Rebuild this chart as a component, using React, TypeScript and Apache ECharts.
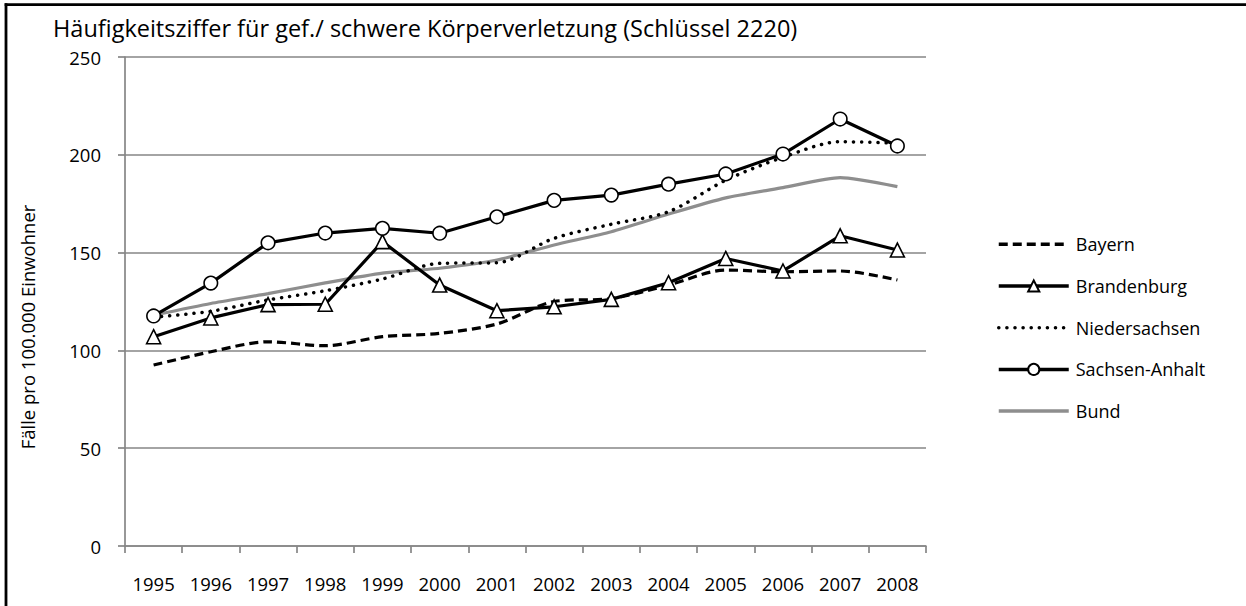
import React, { useEffect, useRef } from "react";
import * as echarts from "echarts";

const years = ["1995","1996","1997","1998","1999","2000","2001","2002","2003","2004","2005","2006","2007","2008"];
const bayern = [92.5, 99.3, 104.4, 102.4, 107, 108.7, 113.5, 125, 126.5, 133.4, 141.1, 140.2, 140.6, 136];
const brandenburg = [107, 116.6, 123.4, 123.6, 155.6, 133.4, 120.3, 122.3, 126.1, 134.6, 147, 140.6, 158.6, 151.3];
const niedersachsen = [117, 120, 125.8, 130.5, 136.5, 144.5, 144.8, 157.3, 164.5, 170.9, 187, 198.7, 206.7, 205.9];
const sachsenAnhalt = [117.6, 134.4, 155, 160, 162.4, 159.9, 168.3, 176.7, 179.4, 185, 190.2, 200.4, 218.3, 204.5];
const bund = [118, 124, 129, 134.5, 139.5, 142, 146.2, 153.9, 160.7, 169.7, 178, 183.2, 188.3, 183.7];
const yTicks = [0, 50, 100, 150, 200, 250];

const FONT = "'Open Sans', 'Noto Sans', sans-serif";

export default function App() {
  const ref = useRef<HTMLDivElement>(null);
  useEffect(() => {
    const chart = echarts.init(ref.current!, null, { renderer: "svg" });
    const hidden = { opacity: 0 };
    chart.setOption({
      animation: false,
      backgroundColor: "#ffffff",
      textStyle: { fontFamily: FONT, color: "#000" },
      grid: { left: 125, right: 320, top: 57, bottom: 60 },
      xAxis: {
        type: "category",
        data: years,
        boundaryGap: true,
        axisLine: { lineStyle: { color: "#868686", width: 1.7 } },
        axisTick: { show: true, length: 7, lineStyle: { color: "#868686", width: 1.7 } },
        axisLabel: { color: "#000", fontSize: 18.5, margin: 28, fontFamily: FONT },
      },
      yAxis: {
        type: "value",
        min: yTicks[0],
        max: yTicks[yTicks.length - 1],
        interval: 50,
        axisLine: { show: true, lineStyle: { color: "#868686", width: 1.7 } },
        axisTick: { show: true, length: 7, lineStyle: { color: "#868686", width: 1.7 } },
        splitLine: { lineStyle: { color: "#868686", width: 1.7 } },
        axisLabel: { color: "#000", fontSize: 18.5, margin: 24, fontFamily: FONT },
      },
      legend: {
        orient: "vertical",
        left: 997,
        top: 234.3,
        padding: 0,
        itemWidth: 70,
        itemHeight: 14,
        itemGap: 21.7,
        textStyle: { fontSize: 18, lineHeight: 20, color: "#000", fontFamily: FONT, padding: [0, 0, 0, 2] },
        data: [
          { name: "Bayern", itemStyle: hidden, lineStyle: { width: 3.5 } },
          { name: "Brandenburg", lineStyle: { width: 3.5 } },
          { name: "Niedersachsen", itemStyle: hidden, lineStyle: { width: 3.5 } },
          { name: "Sachsen-Anhalt", lineStyle: { width: 3.5 } },
          { name: "Bund", itemStyle: hidden, lineStyle: { width: 3.5 } },
        ],
      },
      graphic: [
        {
          type: "text",
          x: 53,
          y: 28,
          style: {
            text: "Häufigkeitsziffer für gef./ schwere Körperverletzung (Schlüssel 2220)",
            font: "23.5px " + FONT,
            fill: "#000",
            verticalAlign: "middle",
          },
        },
        {
          type: "text",
          x: 27,
          y: 327,
          rotation: Math.PI / 2,
          style: {
            text: "Fälle pro 100.000 Einwohner",
            font: "18.5px " + FONT,
            fill: "#000",
            align: "center",
            verticalAlign: "middle",
          },
        },
        {
          type: "line",
          shape: { x1: 4.7, y1: 4.7, x2: 1246, y2: 4.7 },
          style: { stroke: "#000", lineWidth: 2.8 },
        },
        {
          type: "line",
          shape: { x1: 6, y1: 3.3, x2: 6, y2: 606 },
          style: { stroke: "#000", lineWidth: 2.8 },
        },
      ],
      series: [
        {
          name: "Bayern",
          type: "line",
          data: bayern,
          smooth: 0.3,
          symbol: "none",
          lineStyle: { color: "#000", width: 3.2, type: [9, 5] },
          itemStyle: { color: "#000" },
          z: 3,
        },
        {
          name: "Brandenburg",
          type: "line",
          data: brandenburg,
          symbol: "triangle",
          symbolSize: 14,
          lineStyle: { color: "#000", width: 3.2 },
          itemStyle: { color: "#fff", borderColor: "#000", borderWidth: 1.6 },
          z: 5,
        },
        {
          name: "Niedersachsen",
          type: "line",
          data: niedersachsen,
          smooth: 0.3,
          symbol: "none",
          lineStyle: { color: "#000", width: 3.5, type: [0.1, 8], cap: "round" },
          itemStyle: { color: "#000" },
          z: 3,
        },
        {
          name: "Sachsen-Anhalt",
          type: "line",
          data: sachsenAnhalt,
          symbol: "circle",
          symbolSize: 13.5,
          lineStyle: { color: "#000", width: 3.2 },
          itemStyle: { color: "#fff", borderColor: "#000", borderWidth: 1.6 },
          z: 6,
        },
        {
          name: "Bund",
          type: "line",
          data: bund,
          smooth: 0.2,
          symbol: "none",
          lineStyle: { color: "#8e8e8e", width: 3.2 },
          itemStyle: { color: "#8e8e8e" },
          z: 2,
        },
      ],
    });
    return () => chart.dispose();
  }, []);
  return (
    <div
      ref={ref}
      style={{ position: "fixed", left: 0, top: 0, width: 1246, height: 606 }}
    />
  );
}
